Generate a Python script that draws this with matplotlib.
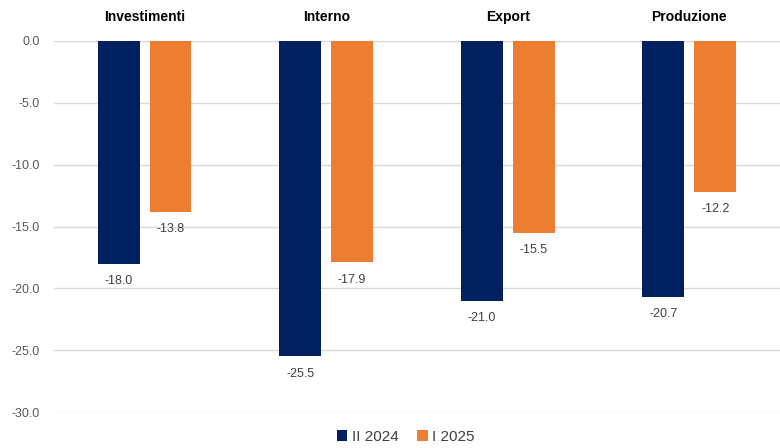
import numpy as np
import matplotlib.pyplot as plt

plt.rcParams['font.family'] = ['Liberation Sans', 'DejaVu Sans']

# Variazioni per componente
categorie = ["Investimenti", "Interno", "Export", "Produzione"]
serie_nomi = ["II 2024", "I 2025"]
valori_2024 = [-18.0, -25.5, -21.0, -20.7]
valori_2025 = [-13.8, -17.9, -15.5, -12.2]

blu = "#002060"
arancio = "#ED7D31"

fig = plt.figure(figsize=(7.8, 4.48), dpi=100)
ax = fig.add_axes([0.069, 0.080, 0.931, 0.8285])

x = np.arange(len(categorie))
larghezza = 0.23
scarto = 0.143

b1 = ax.bar(x - scarto, valori_2024, larghezza, color=blu, label=serie_nomi[0], zorder=3)
b2 = ax.bar(x + scarto, valori_2025, larghezza, color=arancio, label=serie_nomi[1], zorder=3)

# etichette sotto la fine di ogni barra
for barre, vals in ((b1, valori_2024), (b2, valori_2025)):
    for b, v in zip(barre, vals):
        ax.annotate(f"{v:.1f}", (b.get_x() + b.get_width() / 2, v),
                    xytext=(0, -8), textcoords="offset points",
                    ha="center", va="top", fontsize=9, color="#404040")

ax.set_xlim(-0.5, len(categorie) - 0.5)
ax.set_ylim(-30, 0)
ax.set_yticks(np.arange(-30, 1, 5))
ax.set_yticklabels([f"{t:.1f}" for t in np.arange(-30, 1, 5)], fontsize=9, color="#595959")
ax.yaxis.grid(True, color="#d9d9d9", linewidth=1, zorder=0)
ax.set_axisbelow(True)

ax.xaxis.tick_top()
ax.set_xticks(x)
ax.set_xticklabels(categorie, fontsize=10, fontweight="bold", color="black")
ax.tick_params(axis="both", length=0)
ax.tick_params(axis="x", pad=12)
ax.tick_params(axis="y", pad=10)

for s in ax.spines.values():
    s.set_visible(False)

fig.legend(handles=[b1, b2], labels=serie_nomi, loc="center", bbox_to_anchor=(0.52, 0.025),
           ncol=2, frameon=False, fontsize=11, handlelength=0.7, handleheight=0.7,
           handletextpad=0.3, columnspacing=1.2, labelcolor="#404040")

fig.savefig("out.png", dpi=100)
